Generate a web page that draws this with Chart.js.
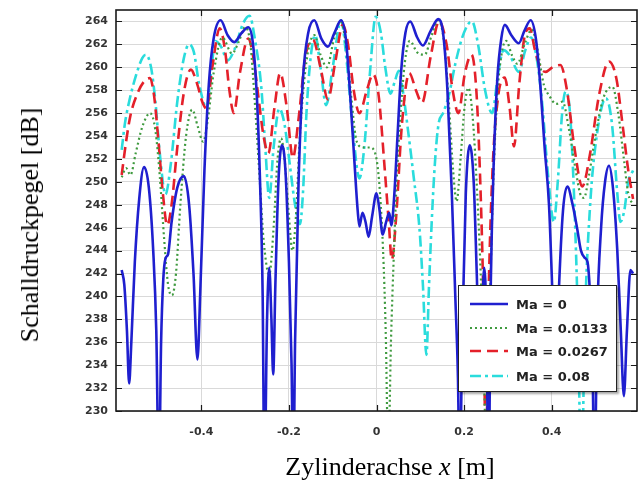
<!DOCTYPE html>
<html><head><meta charset="utf-8">
<script src="https://cdn.jsdelivr.net/npm/chart.js@4/dist/chart.umd.min.js"></script>
<style>
html,body{margin:0;padding:0;background:#fff;}
#wrap{position:relative;width:641px;height:486px;overflow:hidden;}
#c{position:absolute;left:0;top:0;}
#ytitle{position:absolute;left:30px;top:225px;transform:translate(-50%,-50%) rotate(-90deg);font:26px "Liberation Serif",serif;white-space:nowrap;color:#000;}
#xtitle{position:absolute;left:390px;top:467px;transform:translate(-50%,-50%);font:26px "Liberation Serif",serif;white-space:nowrap;color:#000;}
#legend{position:absolute;left:458px;top:285px;width:159px;height:107px;border:1px solid #222;background:#fff;box-shadow:2px 2px 2px rgba(0,0,0,0.35);box-sizing:border-box;}
.row{position:absolute;left:0;height:20px;display:flex;align-items:center;}
.row svg{margin-left:11px;display:block;}
.row span{margin-left:8px;font:bold 13px "DejaVu Sans",sans-serif;color:#222;white-space:nowrap;}
</style></head><body>
<div id="wrap"><canvas id="c" width="641" height="486"></canvas>
<div id="ytitle">Schalldruckpegel [dB]</div>
<div id="xtitle">Zylinderachse <i>x</i> [m]</div>
<div id="legend"></div></div>
<script>
const seriesLabels = ['Ma = 0', 'Ma = 0.0133', 'Ma = 0.0267', 'Ma = 0.08'];
const xTicks = [-0.4, -0.2, 0, 0.2, 0.4];
const xTickLabels = ['-0.4', '-0.2', '0', '0.2', '0.4'];
const yTicks = [230,232,234,236,238,240,242,244,246,248,250,252,254,256,258,260,262,264];
const yTickLabels = ['230','232','234','236','238','240','242','244','246','248','250','252','254','256','258','260','262','264'];

const xMa0 = [-0.582,-0.576,-0.570,-0.565,-0.560,-0.552,-0.542,-0.531,-0.520,-0.510,-0.503,-0.497,-0.492,-0.487,-0.482,-0.476,-0.468,-0.455,-0.440,-0.428,-0.418,-0.409,-0.402,-0.393,-0.383,-0.372,-0.356,-0.340,-0.325,-0.308,-0.293,-0.283,-0.274,-0.266,-0.260,-0.256,-0.250,-0.245,-0.240,-0.236,-0.231,-0.224,-0.216,-0.208,-0.200,-0.194,-0.190,-0.186,-0.178,-0.168,-0.156,-0.142,-0.126,-0.111,-0.096,-0.081,-0.070,-0.060,-0.050,-0.043,-0.039,-0.032,-0.025,-0.018,-0.010,0.000,0.007,0.014,0.022,0.029,0.034,0.040,0.048,0.056,0.066,0.077,0.093,0.106,0.124,0.141,0.152,0.162,0.172,0.180,0.186,0.190,0.196,0.204,0.213,0.222,0.229,0.236,0.241,0.246,0.251,0.256,0.261,0.268,0.276,0.285,0.293,0.308,0.325,0.338,0.352,0.364,0.374,0.384,0.394,0.402,0.409,0.416,0.426,0.436,0.448,0.458,0.467,0.475,0.482,0.488,0.493,0.498,0.504,0.513,0.522,0.531,0.540,0.550,0.558,0.565,0.572,0.580,0.586];
const yMa0 = [242.3,241.0,237.0,232.4,236.0,243.0,248.5,251.3,249.5,244.0,237.0,224.0,236.0,241.5,243.3,243.7,246.5,249.5,250.5,248.0,242.0,234.5,241.0,251.0,258.5,262.5,264.1,262.8,262.2,263.0,263.5,262.3,258.0,250.0,240.0,224.0,238.0,242.5,238.0,233.2,241.0,250.0,253.2,251.0,243.0,234.0,224.0,236.0,250.0,259.0,263.0,264.1,262.5,261.8,263.0,264.1,262.5,257.5,251.5,247.5,246.1,247.3,246.5,245.2,247.0,249.0,247.5,245.4,246.5,247.3,246.2,248.5,254.0,259.5,263.0,264.0,262.6,261.9,263.2,264.2,263.0,258.0,249.0,240.0,233.0,224.0,237.0,249.0,253.2,250.0,242.0,233.2,238.0,242.5,238.0,224.0,241.0,252.0,259.0,262.5,263.7,262.8,262.1,263.2,264.1,262.5,258.5,253.0,248.0,240.0,232.0,240.0,247.5,249.6,248.0,246.0,244.0,243.4,243.0,240.0,235.0,224.0,238.0,246.0,250.0,251.4,249.5,244.0,237.0,231.3,237.0,242.3,242.0];

const xMa0133 = [-0.582,-0.572,-0.562,-0.550,-0.535,-0.517,-0.505,-0.495,-0.485,-0.476,-0.467,-0.458,-0.448,-0.435,-0.421,-0.408,-0.396,-0.385,-0.372,-0.352,-0.330,-0.315,-0.300,-0.288,-0.278,-0.268,-0.258,-0.245,-0.235,-0.226,-0.218,-0.210,-0.200,-0.192,-0.184,-0.175,-0.160,-0.142,-0.127,-0.113,-0.097,-0.082,-0.070,-0.058,-0.045,-0.030,-0.015,0.000,0.008,0.015,0.021,0.027,0.033,0.039,0.046,0.055,0.065,0.076,0.093,0.110,0.126,0.141,0.155,0.165,0.175,0.183,0.192,0.201,0.210,0.220,0.230,0.238,0.245,0.251,0.257,0.265,0.275,0.285,0.296,0.310,0.322,0.338,0.355,0.368,0.382,0.395,0.410,0.425,0.440,0.455,0.465,0.474,0.485,0.500,0.518,0.539,0.552,0.565,0.575,0.586];
const yMa0133 = [250.4,251.2,250.6,252.5,254.8,256.0,254.5,250.5,245.0,241.0,240.1,242.0,248.0,254.0,256.3,254.8,253.5,255.5,259.5,262.6,261.2,262.2,263.5,262.0,257.0,251.0,245.0,241.9,246.0,252.0,253.8,252.0,247.0,244.0,247.0,254.0,260.5,262.8,261.0,260.0,262.5,264.0,262.0,257.5,253.5,253.0,253.0,252.0,249.0,244.0,237.0,226.0,236.0,243.0,250.0,256.0,260.5,262.3,261.3,261.1,262.8,264.1,262.0,257.0,251.0,248.3,252.0,256.5,258.2,255.5,249.0,242.0,234.0,226.0,236.0,248.0,257.0,261.0,262.3,261.0,260.3,262.0,263.3,261.5,258.5,257.5,256.8,257.0,254.5,251.0,249.0,248.6,250.5,254.0,257.3,258.3,256.0,252.0,249.0,248.0];

const xMa0267 = [-0.582,-0.572,-0.562,-0.545,-0.530,-0.518,-0.508,-0.498,-0.488,-0.478,-0.468,-0.455,-0.440,-0.424,-0.410,-0.398,-0.388,-0.375,-0.358,-0.346,-0.336,-0.326,-0.312,-0.293,-0.282,-0.270,-0.258,-0.247,-0.233,-0.220,-0.205,-0.191,-0.178,-0.162,-0.145,-0.128,-0.111,-0.094,-0.077,-0.065,-0.052,-0.039,-0.022,-0.008,0.005,0.019,0.028,0.035,0.045,0.058,0.075,0.090,0.104,0.124,0.143,0.160,0.174,0.187,0.202,0.217,0.228,0.237,0.244,0.250,0.256,0.265,0.278,0.293,0.304,0.314,0.326,0.340,0.350,0.362,0.374,0.386,0.402,0.420,0.435,0.452,0.470,0.488,0.508,0.531,0.548,0.562,0.575,0.586];
const yMa0267 = [250.6,253.5,255.8,257.8,258.8,259.05,257.5,253.5,249.0,246.2,248.0,253.0,257.8,259.8,258.6,257.0,256.4,260.0,263.4,261.5,258.0,256.0,259.5,262.5,261.0,257.5,254.0,252.5,256.5,259.5,256.5,252.1,255.5,261.0,262.4,260.0,257.2,260.5,263.7,262.0,258.0,256.0,258.0,259.4,257.5,251.0,246.5,243.2,247.0,255.0,259.5,258.0,256.9,261.0,264.0,262.0,258.0,256.0,259.5,261.1,258.0,250.0,240.0,226.0,240.0,251.0,257.5,259.1,256.5,253.1,258.5,263.0,263.4,261.5,260.0,259.6,260.0,260.2,258.0,253.0,249.6,252.5,257.5,260.5,259.0,255.0,251.0,248.5];

const xMa08 = [-0.582,-0.575,-0.565,-0.550,-0.535,-0.527,-0.515,-0.505,-0.495,-0.482,-0.470,-0.455,-0.440,-0.428,-0.417,-0.405,-0.388,-0.378,-0.368,-0.355,-0.340,-0.325,-0.305,-0.290,-0.278,-0.263,-0.254,-0.245,-0.235,-0.222,-0.210,-0.198,-0.186,-0.175,-0.168,-0.160,-0.150,-0.140,-0.128,-0.115,-0.100,-0.081,-0.068,-0.055,-0.039,-0.028,-0.015,-0.002,0.010,0.020,0.032,0.042,0.051,0.060,0.070,0.085,0.098,0.106,0.114,0.120,0.128,0.135,0.142,0.152,0.165,0.180,0.195,0.210,0.218,0.232,0.248,0.264,0.278,0.290,0.305,0.325,0.340,0.353,0.365,0.378,0.392,0.405,0.414,0.424,0.432,0.442,0.452,0.460,0.468,0.476,0.488,0.503,0.524,0.538,0.550,0.557,0.566,0.575,0.586];
const yMa08 = [252.8,255.0,257.0,259.2,260.8,261.1,260.0,257.0,252.5,248.9,251.5,257.0,260.8,262.0,261.3,258.5,256.5,259.5,262.3,261.8,260.6,261.5,263.8,264.5,262.5,258.2,253.0,248.6,253.0,256.4,255.0,251.5,248.0,246.3,249.0,256.0,261.0,262.8,260.0,256.7,260.0,264.1,260.5,255.0,250.3,253.0,259.5,264.4,263.0,260.0,257.7,258.8,259.7,258.0,255.1,250.4,246.0,241.0,234.9,241.0,248.0,252.5,255.1,256.0,257.5,260.3,262.5,263.8,264.0,262.0,258.0,256.0,259.5,261.5,261.0,259.6,261.5,262.6,261.0,257.0,250.5,246.5,250.0,256.0,257.9,256.0,248.0,238.0,224.0,238.0,248.0,254.0,257.3,255.0,249.0,246.5,247.5,250.0,251.0];

const seriesX = [xMa0, xMa0133, xMa0267, xMa08];
const seriesY = [yMa0, yMa0133, yMa0267, yMa08];
const styles = [
  {color:'#1f1fcf', width:2.6, dash:[]},
  {color:'#3f9a3f', width:2.2, dash:[2,3]},
  {color:'#e4202a', width:2.6, dash:[11,6]},
  {color:'#2adcdc', width:2.6, dash:[11,4,3,4]}
];

const datasets = seriesLabels.map((lab, k) => ({
  label: lab,
  data: seriesX[k].map((x, i) => ({x: x, y: seriesY[k][i]})),
  borderColor: styles[k].color,
  borderWidth: styles[k].width,
  borderDash: styles[k].dash,
  pointRadius: 0,
  fill: false,
  cubicInterpolationMode: 'monotone',
  clip: 0
}));

const framePlugin = {
  id: 'frame',
  afterDraw(chart) {
    const {ctx, chartArea: a, scales: {x, y}} = chart;
    ctx.save();
    ctx.strokeStyle = '#1a1a1a';
    ctx.lineWidth = 1.2;
    ctx.beginPath();
    xTicks.forEach(v => {
      const px = Math.round(x.getPixelForValue(v)) + 0.5;
      ctx.moveTo(px, a.bottom); ctx.lineTo(px, a.bottom - 6);
      ctx.moveTo(px, a.top); ctx.lineTo(px, a.top + 6);
    });
    yTicks.forEach(v => {
      const py = Math.round(y.getPixelForValue(v)) + 0.5;
      ctx.moveTo(a.left, py); ctx.lineTo(a.left + 6, py);
      ctx.moveTo(a.right, py); ctx.lineTo(a.right - 6, py);
    });
    ctx.stroke();
    ctx.lineWidth = 1.6;
    ctx.strokeRect(a.left, a.top, a.right - a.left, a.bottom - a.top);
    ctx.restore();
  }
};

const tickFont = {family: 'DejaVu Sans', size: 11, weight: 'bold'};
new Chart(document.getElementById('c'), {
  type: 'line',
  data: {datasets: datasets},
  options: {
    responsive: false,
    animation: false,
    layout: {padding: {top: 10, right: 4, left: 0, bottom: 0}},
    plugins: {legend: {display: false}, tooltip: {enabled: false}},
    scales: {
      x: {
        type: 'linear', min: -0.595, max: 0.595,
        afterBuildTicks: s => { s.ticks = xTicks.map(v => ({value: v})); },
        afterFit: s => { s.height = 75; s.paddingLeft = 0; s.paddingRight = 0; },
        ticks: {font: tickFont, color: '#333', padding: 15, callback: (v, i) => xTickLabels[i], maxRotation: 0},
        grid: {color: '#d9d9d9', drawTicks: false},
        border: {display: false}
      },
      y: {
        type: 'linear', min: 230, max: 265,
        afterBuildTicks: s => { s.ticks = yTicks.map(v => ({value: v})); },
        afterFit: s => { s.width = 116; s.paddingTop = 0; s.paddingBottom = 0; },
        ticks: {font: tickFont, color: '#333', padding: 8, callback: (v, i) => yTickLabels[i]},
        grid: {color: '#d9d9d9', drawTicks: false},
        border: {display: false}
      }
    }
  },
  plugins: [framePlugin]
});

// legend inside the plot
const legend = document.getElementById('legend');
const rowTops = [8, 32, 55, 80];
seriesLabels.forEach((lab, k) => {
  const row = document.createElement('div');
  row.className = 'row';
  row.style.top = rowTops[k] + 'px';
  const st = styles[k];
  const dashAttr = st.dash.length ? ` stroke-dasharray="${st.dash.join(',')}"` : '';
  row.innerHTML = `<svg width="38" height="8"><line x1="0" y1="4" x2="38" y2="4" stroke="${st.color}" stroke-width="${st.width}"${dashAttr}/></svg><span>${lab}</span>`;
  legend.appendChild(row);
});
</script>
</body></html>
